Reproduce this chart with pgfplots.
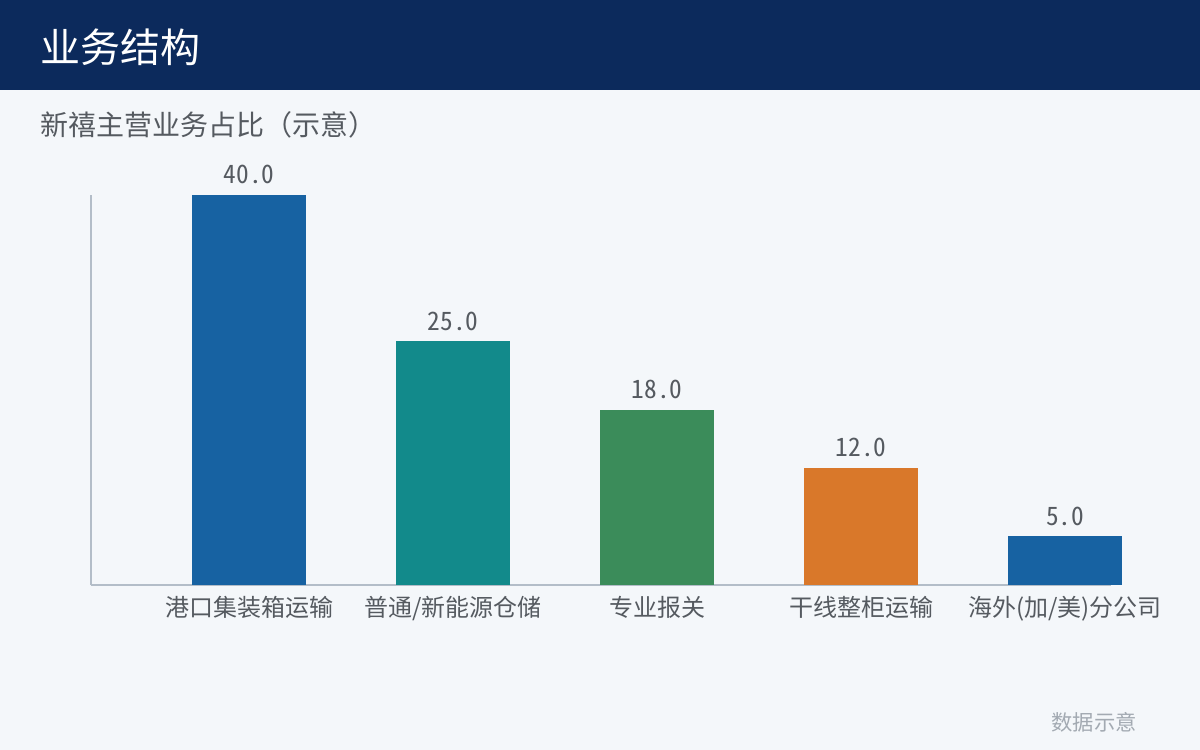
\documentclass[border=0pt]{standalone}
\usepackage{pgfplots}
\pgfplotsset{compat=1.18}
\usepackage{fontspec}
\setmainfont{Noto Sans CJK SC}
\newfontfamily\cjk{Noto Sans CJK SC}
\newfontfamily\mono{Noto Sans Mono CJK SC}
\definecolor{header}{HTML}{0C2A5C}
\definecolor{bg}{HTML}{F4F7FA}
\definecolor{cA}{HTML}{1762A2}
\definecolor{cB}{HTML}{128A8B}
\definecolor{cC}{HTML}{3B8C5A}
\definecolor{cD}{HTML}{D9782A}
\definecolor{axisgray}{HTML}{B3BDC8}
\definecolor{txt}{HTML}{555A60}
\definecolor{foot}{HTML}{A3AAB2}
\begin{document}
\begin{tikzpicture}
\begin{scope}[x=0.75pt,y=-0.75pt]
\fill[bg] (0,0) rectangle (1200,750);
\fill[header] (0,0) rectangle (1200,90);
\node[anchor=west,inner sep=0pt,text=white,font=\cjk\fontsize{30pt}{32pt}\selectfont] at (40,47) {业务结构};
\node[anchor=west,inner sep=0pt,text=txt,font=\cjk\fontsize{21pt}{23pt}\selectfont] at (40,125) {新禧主营业务占比（示意）};
\node[anchor=east,inner sep=0pt,text=foot,font=\cjk\fontsize{16pt}{18pt}\selectfont] at (1137,722) {数据示意};
\end{scope}
\begin{axis}[
  at={(68.25pt,-438.75pt)}, anchor=south west,
  scale only axis, width=765pt, height=292.5pt,
  xmin=-0.7745, xmax=4.2255, ymin=0, ymax=40,
  axis x line*=bottom, axis y line*=left,
  axis line style={axisgray, line width=1.2pt},
  ytick=\empty,
  xtick={0,1,2,3,4},
  xticklabels={港口集装箱运输,普通/新能源仓储,专业报关,干线整柜运输,海外(加/美)分公司},
  major tick length=0pt,
  xticklabel style={font=\cjk\fontsize{18pt}{20pt}\selectfont, text=txt, inner sep=0pt, yshift=-8pt},
  clip=false,
  ybar, bar width=85.5pt, bar shift=0pt,
  nodes near coords={\pgfmathprintnumber[fixed,fixed zerofill,precision=1,assume math mode=true]{\pgfplotspointmeta}},
  nodes near coords style={font=\mono\fontsize{19pt}{20pt}\selectfont, text=txt, inner sep=0pt, anchor=south, yshift=8pt},
  every axis plot/.append style={draw=none},
]
\addplot[fill=cA] coordinates {(0,40)};
\addplot[fill=cB] coordinates {(1,25)};
\addplot[fill=cC] coordinates {(2,18)};
\addplot[fill=cD] coordinates {(3,12)};
\addplot[fill=cA] coordinates {(4,5)};
\end{axis}
\pgfresetboundingbox
\path[use as bounding box] (0,0) rectangle (900pt,-562.5pt);
\end{tikzpicture}
\end{document}
